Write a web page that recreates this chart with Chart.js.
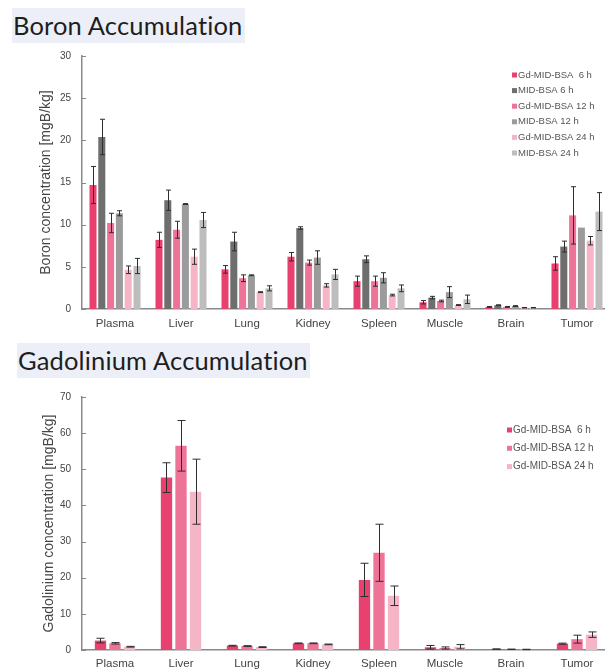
<!DOCTYPE html>
<html>
<head>
<meta charset="utf-8">
<script src="https://cdn.jsdelivr.net/npm/chart.js@4.4.1/dist/chart.umd.min.js"></script>
<style>
  body { margin: 0; width: 605px; height: 670px; overflow: hidden; background: #fff; position: relative; }
  .ttl { position: absolute; background: #eceff7; color: #1e1e1e; font-family: Lato, sans-serif; font-size: 25.5px; letter-spacing: 0.15px; line-height: 35px; padding: 0 2px 0 1px; white-space: nowrap; }
  .wrap { position: absolute; left: 0; }
</style>
</head>
<body>
<div class="ttl" style="left:12px;top:8px;">Boron Accumulation</div>
<div class="ttl" style="left:17px;top:343px;">Gadolinium Accumulation</div>
<div class="wrap" style="top:0;"><canvas id="boron" width="612" height="335"></canvas></div>
<div class="wrap" style="top:380px;"><canvas id="gado" width="612" height="290"></canvas></div>
<script>
// organs on x axis
const organs = ['Plasma', 'Liver', 'Lung', 'Kidney', 'Spleen', 'Muscle', 'Brain', 'Tumor'];

// Boron accumulation [mgB/kg]
const bGd6  = [14.7, 8.2, 4.7, 6.2, 3.3, 0.8, 0.25, 5.4];
const bGd6e = [2.2, 0.9, 0.45, 0.5, 0.6, 0.2, 0.05, 0.8];
const bMid6  = [20.4, 12.9, 8.0, 9.6, 5.9, 1.35, 0.45, 7.4];
const bMid6e = [2.1, 1.2, 1.1, 0.15, 0.4, 0.15, 0.05, 0.65];
const bGd12  = [10.2, 9.4, 3.65, 5.5, 3.3, 0.95, 0.25, 11.1];
const bGd12e = [1.15, 1.0, 0.4, 0.3, 0.6, 0.1, 0.05, 3.4];
const bMid12  = [11.35, 12.45, 4.0, 6.1, 3.7, 2.0, 0.35, 9.65];
const bMid12e = [0.3, 0.05, 0.05, 0.8, 0.6, 0.65, 0.05, 0];
const bGd24  = [4.65, 6.2, 2.0, 2.8, 1.65, 0.47, 0.15, 8.1];
const bGd24e = [0.45, 0.9, 0.05, 0.2, 0.1, 0.05, 0.03, 0.5];
const bMid24  = [5.1, 10.55, 2.45, 4.1, 2.45, 1.15, 0.15, 11.55];
const bMid24e = [0.9, 0.9, 0.3, 0.6, 0.4, 0.5, 0.03, 2.25];

// Gadolinium accumulation
const gGd6  = [2.6, 47.7, 1.2, 1.85, 19.4, 0.75, 0.25, 1.75];
const gGd6e = [0.65, 4.1, 0.1, 0.1, 4.6, 0.5, 0.05, 0.15];
const gGd12  = [1.85, 56.5, 1.1, 1.85, 26.9, 0.55, 0.2, 3.0];
const gGd12e = [0.2, 7.0, 0.1, 0.1, 7.9, 0.3, 0.05, 1.1];
const gGd24  = [0.9, 43.8, 0.8, 1.55, 15.0, 0.9, 0.15, 4.25];
const gGd24e = [0.1, 9.0, 0.1, 0.1, 2.7, 0.6, 0.05, 0.75];

const cGd6 = '#e8416f', cMid6 = '#6e6e6e', cGd12 = '#ee7497', cMid12 = '#9b9b9b', cGd24 = '#f6b4c7', cMid24 = '#bdbdbd';

// error bars, inward y ticks and the small legend box
var plugin = {
  id: 'extras',
  afterDatasetsDraw: function (chart) {
    const ctx = chart.ctx, y = chart.scales.y;
    const cap = chart.options.plugins.extras.cap;
    ctx.save();
    ctx.strokeStyle = '#2e2e2e';
    ctx.lineWidth = 1;
    chart.data.datasets.forEach(function (ds, di) {
      chart.getDatasetMeta(di).data.forEach(function (bar, i) {
        const e = ds.err[i];
        if (!e) return;
        const v = ds.data[i];
        const x = Math.round(bar.x) + 0.5;
        const yt = y.getPixelForValue(v + e), yb = y.getPixelForValue(Math.max(0, v - e));
        ctx.beginPath();
        ctx.moveTo(x, yt); ctx.lineTo(x, yb);
        ctx.moveTo(x - cap, yt); ctx.lineTo(x + cap, yt);
        ctx.moveTo(x - cap, yb); ctx.lineTo(x + cap, yb);
        ctx.stroke();
      });
    });
    ctx.restore();
  },
  afterDraw: function (chart) {
    const ctx = chart.ctx, y = chart.scales.y;
    const lg = chart.options.plugins.extras;
    ctx.save();
    ctx.strokeStyle = '#888';
    ctx.lineWidth = 1;
    y.ticks.forEach(function (t, i) {
      const py = Math.round(y.getPixelForTick(i)) + 0.5;
      ctx.beginPath();
      ctx.moveTo(y.right, py); ctx.lineTo(y.right + 4, py);
      ctx.stroke();
    });
    ctx.font = lg.fontSize + 'px "Liberation Sans", Arial, sans-serif';
    ctx.textBaseline = 'middle';
    chart.data.datasets.forEach(function (ds, i) {
      const py = lg.y + i * lg.step;
      ctx.fillStyle = ds.backgroundColor;
      ctx.fillRect(lg.x, py - 2.5, 5, 5);
      ctx.fillStyle = '#555';
      ctx.fillText(ds.label, lg.x + 6, py);
    });
    ctx.restore();
  }
};

function opciones(yMax, step, titulo, titleOffset, xHeight, labelPad, cap, lg, padTop) {
  return {
    responsive: false,
    animation: false,
    layout: { padding: { top: padTop, left: 0, right: 2, bottom: 0 } },
    plugins: {
      legend: { display: false },
      tooltip: { enabled: false },
      extras: { cap: cap, x: lg.x, y: lg.y, step: lg.step, fontSize: lg.fontSize }
    },
    scales: {
      x: {
        grid: { display: false, drawTicks: false },
        border: { display: true, color: '#8a8a8a', width: 1.5 },
        ticks: { color: '#444', padding: labelPad, font: { family: 'Liberation Sans', size: 11.5 } },
        afterFit: function (s) { s.height = xHeight; }
      },
      y: {
        min: 0,
        max: yMax,
        grid: { display: false, drawTicks: false },
        border: { display: true, color: '#8a8a8a', width: 1.5 },
        ticks: { stepSize: step, color: '#444', padding: 11, font: { family: 'Liberation Sans', size: 10 } },
        title: {
          display: true,
          text: titulo,
          color: '#444',
          font: { family: 'Liberation Sans', size: 14 },
          padding: { top: titleOffset, bottom: 0 }
        },
        afterFit: function (s) { s.width = 82; }
      }
    }
  };
}

new Chart(document.getElementById('boron'), {
  type: 'bar',
  data: {
    labels: organs,
    datasets: [
      { label: 'Gd-MID-BSA  6 h', data: bGd6, err: bGd6e, backgroundColor: cGd6 },
      { label: 'MID-BSA 6 h', data: bMid6, err: bMid6e, backgroundColor: cMid6 },
      { label: 'Gd-MID-BSA 12 h', data: bGd12, err: bGd12e, backgroundColor: cGd12 },
      { label: 'MID-BSA 12 h', data: bMid12, err: bMid12e, backgroundColor: cMid12 },
      { label: 'Gd-MID-BSA 24 h', data: bGd24, err: bGd24e, backgroundColor: cGd24 },
      { label: 'MID-BSA 24 h', data: bMid24, err: bMid24e, backgroundColor: cMid24 }
    ].map(function (d) { d.categoryPercentage = 0.8; d.barPercentage = 0.8; return d; })
  },
  options: opciones(30, 5, 'Boron concentration [mgB/kg]', 38, 26, 8, 2.5,
    { x: 512, y: 75, step: 15.6, fontSize: 9.5 }, 56),
  plugins: [plugin]
});

new Chart(document.getElementById('gado'), {
  type: 'bar',
  data: {
    labels: organs,
    datasets: [
      { label: 'Gd-MID-BSA  6 h', data: gGd6, err: gGd6e, backgroundColor: cGd6 },
      { label: 'Gd-MID-BSA 12 h', data: gGd12, err: gGd12e, backgroundColor: cGd12 },
      { label: 'Gd-MID-BSA 24 h', data: gGd24, err: gGd24e, backgroundColor: cGd24 }
    ].map(function (d) { d.categoryPercentage = 0.66; d.barPercentage = 0.78; return d; })
  },
  options: opciones(70, 10, 'Gadolinium concentration [mgB/kg]', 41, 20, 7, 4,
    { x: 507, y: 50, step: 18.3, fontSize: 10 }, 17),
  plugins: [plugin]
});
</script>
</body>
</html>
